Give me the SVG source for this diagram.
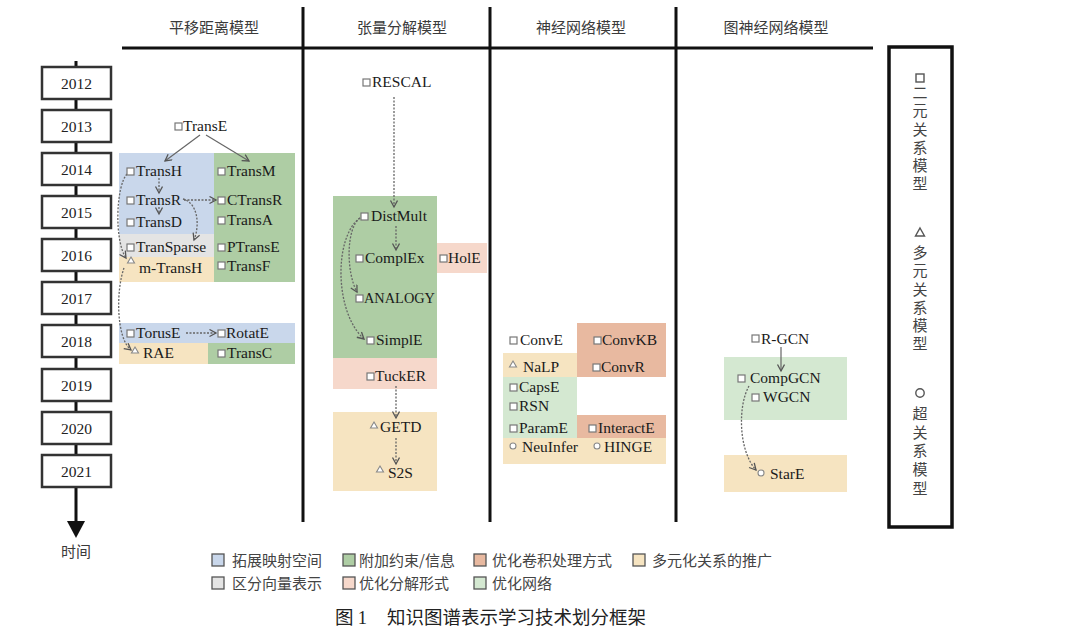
<svg xmlns="http://www.w3.org/2000/svg" width="1080" height="634" viewBox="0 0 1080 634">
<defs>
<marker id="ah" markerWidth="10" markerHeight="10" refX="7.5" refY="4" orient="auto" markerUnits="userSpaceOnUse">
<path d="M1,0.5 L7.5,4 L1,7.5" fill="none" stroke="#555" stroke-width="1.3"/>
</marker>
<style>
.m{font-family:"Liberation Serif","Times New Roman",serif;font-size:15.5px;fill:#1a1a1a}
.yr{font-family:"Liberation Serif","Times New Roman",serif;font-size:15.5px;fill:#222;text-anchor:middle}
.h{font-family:"Noto Sans CJK SC",sans-serif;font-size:15px;fill:#3a3a3a;text-anchor:middle}
.lg{font-family:"Noto Sans CJK SC",sans-serif;font-size:15px;fill:#444}
.vt{font-family:"Noto Sans CJK SC",sans-serif;font-size:15px;fill:#444;writing-mode:vertical-rl}
.cap{font-family:"Noto Sans CJK SC",sans-serif;font-size:18.5px;fill:#222}
.sq{fill:#fff;stroke:#777;stroke-width:1.2}
.ic{fill:#fff;stroke:#888;stroke-width:1.1}
.dl{fill:none;stroke:#666;stroke-width:1.3;stroke-dasharray:2 1.5;marker-end:url(#ah)}
.sl{fill:none;stroke:#666;stroke-width:1.2;marker-end:url(#ah)}
.yb{fill:#fff;stroke:#333;stroke-width:2.5}
.bk{stroke:#111;stroke-width:3;fill:none}
.lsq{stroke:#555;stroke-width:1.3}
.blue{fill:#c9d7eb}
.green{fill:#aecda4}
.orange{fill:#e8b9a0}
.yellow{fill:#f6e4c1}
.grey{fill:#e4e4e4}
.pink{fill:#f6d8cb}
.lgreen{fill:#d4e8d1}
</style>
</defs>
<rect width="1080" height="634" fill="#fff"/>

<!-- frame lines and headings -->
<g id="frame">
<line class="bk" x1="122" y1="48" x2="873" y2="48"/>
<line class="bk" x1="303" y1="7" x2="303" y2="522"/>
<line class="bk" x1="490" y1="7" x2="490" y2="522"/>
<line class="bk" x1="676" y1="7" x2="676" y2="522"/>
<text class="h" x="214" y="33">平移距离模型</text>
<text class="h" x="402" y="33">张量分解模型</text>
<text class="h" x="581" y="33">神经网络模型</text>
<text class="h" x="776" y="33">图神经网络模型</text>
</g>

<!-- timeline -->
<g id="timeline">
<line x1="76" y1="61" x2="76" y2="524" stroke="#111" stroke-width="3"/>
<polygon points="67,521 85,521 76,538" fill="#111"/>
<rect class="yb" x="42" y="67" width="69" height="32"/><text class="yr" x="76.5" y="89">2012</text>
<rect class="yb" x="42" y="110" width="69" height="32"/><text class="yr" x="76.5" y="132">2013</text>
<rect class="yb" x="42" y="153" width="69" height="32"/><text class="yr" x="76.5" y="175">2014</text>
<rect class="yb" x="42" y="196" width="69" height="32"/><text class="yr" x="76.5" y="218">2015</text>
<rect class="yb" x="42" y="239" width="69" height="32"/><text class="yr" x="76.5" y="261">2016</text>
<rect class="yb" x="42" y="282" width="69" height="32"/><text class="yr" x="76.5" y="304">2017</text>
<rect class="yb" x="42" y="325" width="69" height="32"/><text class="yr" x="76.5" y="347">2018</text>
<rect class="yb" x="42" y="369" width="69" height="32"/><text class="yr" x="76.5" y="391">2019</text>
<rect class="yb" x="42" y="412" width="69" height="32"/><text class="yr" x="76.5" y="434">2020</text>
<rect class="yb" x="42" y="455" width="69" height="32"/><text class="yr" x="76.5" y="477">2021</text>
<text class="h" x="76" y="557">时间</text>
</g>

<!-- category backgrounds -->
<g id="backgrounds">
<rect class="blue" x="119" y="153" width="95" height="81"/>
<rect class="grey" x="119" y="234" width="95" height="23"/>
<rect class="yellow" x="119" y="257" width="95" height="25"/>
<rect class="green" x="214" y="153" width="81" height="129"/>
<rect class="blue" x="119" y="323" width="176" height="20"/>
<rect class="yellow" x="119" y="343" width="89" height="21"/>
<rect class="green" x="208" y="343" width="87" height="21"/>
<rect class="green" x="333" y="196" width="104" height="162"/>
<rect class="pink" x="437" y="243" width="50" height="30"/>
<rect class="pink" x="333" y="358" width="104" height="31"/>
<rect class="yellow" x="333" y="412" width="104" height="79"/>
<rect class="orange" x="577" y="323" width="89" height="54"/>
<rect class="yellow" x="503" y="353" width="74" height="24"/>
<rect class="lgreen" x="503" y="377" width="74" height="61"/>
<rect class="orange" x="577" y="415" width="89" height="23"/>
<rect class="yellow" x="503" y="438" width="163" height="26"/>
<rect class="lgreen" x="724" y="357" width="123" height="63"/>
<rect class="yellow" x="724" y="455" width="123" height="37"/>
</g>

<!-- connectors -->
<g id="connectors">
<path class="sl" d="M200,135 L165,161"/>
<path class="sl" d="M206,135 L249,161"/>
<path class="dl" d="M159,178 L159,193"/>
<path class="dl" d="M159,207 L159,214"/>
<path class="dl" d="M184,200 L216,200"/>
<path class="dl" d="M183,199 C198,203 200,225 194,240"/>
<path class="dl" d="M127,174 C116,186 114,240 126,258"/>
<path class="dl" d="M124,268 C116,290 116,338 131,350"/>
<path class="dl" d="M186,333 L216,333"/>
<path class="dl" d="M394,97 L394,207"/>
<path class="dl" d="M396,226 L396,250"/>
<path class="dl" d="M360,218 C346,228 346,272 357,292"/>
<path class="dl" d="M360,218 C334,236 334,312 364,339"/>
<path class="dl" d="M396,386 L396,418"/>
<path class="dl" d="M396,438 L396,464"/>
<path class="sl" d="M781,347 L781,371"/>
<path class="dl" d="M749,386 C738,405 738,450 756,470"/>
</g>

<!-- translation models -->
<g id="TransE"><rect class="sq" x="175" y="123" width="7" height="7"/><text class="m" x="183" y="131">TransE</text></g>
<g id="TransH"><rect class="sq" x="127" y="168" width="7" height="7"/><text class="m" x="136" y="176">TransH</text></g>
<g id="TransR"><rect class="sq" x="127" y="197" width="7" height="7"/><text class="m" x="136" y="205">TransR</text></g>
<g id="TransD"><rect class="sq" x="127" y="219" width="7" height="7"/><text class="m" x="136" y="227">TransD</text></g>
<g id="TranSparse"><rect class="sq" x="127" y="244" width="7" height="7"/><text class="m" x="136" y="252">TranSparse</text></g>
<g id="m-TransH"><polygon class="ic" points="131,257 134.5,263 127.5,263"/><text class="m" x="139" y="273">m-TransH</text></g>
<g id="TransM"><rect class="sq" x="218" y="168" width="7" height="7"/><text class="m" x="227" y="176">TransM</text></g>
<g id="CTransR"><rect class="sq" x="218" y="197" width="7" height="7"/><text class="m" x="227" y="205">CTransR</text></g>
<g id="TransA"><rect class="sq" x="218" y="217" width="7" height="7"/><text class="m" x="227" y="225">TransA</text></g>
<g id="PTransE"><rect class="sq" x="218" y="244" width="7" height="7"/><text class="m" x="227" y="252">PTransE</text></g>
<g id="TransF"><rect class="sq" x="218" y="262" width="7" height="7"/><text class="m" x="227" y="271">TransF</text></g>
<g id="TorusE"><rect class="sq" x="127" y="330" width="7" height="7"/><text class="m" x="136" y="338">TorusE</text></g>
<g id="RotatE"><rect class="sq" x="218" y="330" width="7" height="7"/><text class="m" x="226" y="338">RotatE</text></g>
<g id="RAE"><polygon class="ic" points="135,347 138.5,353 131.5,353"/><text class="m" x="143" y="358">RAE</text></g>
<g id="TransC"><rect class="sq" x="218" y="350" width="7" height="7"/><text class="m" x="227" y="358">TransC</text></g>

<!-- tensor factorization models -->
<g id="RESCAL"><rect class="sq" x="363" y="79" width="7" height="7"/><text class="m" x="372" y="87">RESCAL</text></g>
<g id="DistMult"><rect class="sq" x="361" y="213" width="7" height="7"/><text class="m" x="371" y="221">DistMult</text></g>
<g id="ComplEx"><rect class="sq" x="356" y="255" width="7" height="7"/><text class="m" x="365" y="263">ComplEx</text></g>
<g id="HolE"><rect class="sq" x="440" y="255" width="7" height="7"/><text class="m" x="448" y="263">HolE</text></g>
<g id="ANALOGY"><rect class="sq" x="356" y="295" width="7" height="7"/><text class="m" x="364" y="303" textLength="71" lengthAdjust="spacingAndGlyphs">ANALOGY</text></g>
<g id="SimplE"><rect class="sq" x="367" y="337" width="7" height="7"/><text class="m" x="376" y="345">SimplE</text></g>
<g id="TuckER"><rect class="sq" x="367" y="373" width="7" height="7"/><text class="m" x="375" y="381">TuckER</text></g>
<g id="GETD"><polygon class="ic" points="374,422 377.5,428 370.5,428"/><text class="m" x="380" y="432">GETD</text></g>
<g id="S2S"><polygon class="ic" points="380,466 383.5,472 376.5,472"/><text class="m" x="388" y="478">S2S</text></g>

<!-- neural network models -->
<g id="ConvE"><rect class="sq" x="510" y="337" width="7" height="7"/><text class="m" x="520" y="345">ConvE</text></g>
<g id="ConvKB"><rect class="sq" x="594" y="337" width="7" height="7"/><text class="m" x="602" y="345">ConvKB</text></g>
<g id="ConvR"><rect class="sq" x="593" y="364" width="7" height="7"/><text class="m" x="601" y="372">ConvR</text></g>
<g id="NaLP"><polygon class="ic" points="513,361 516.5,367 509.5,367"/><text class="m" x="523" y="372">NaLP</text></g>
<g id="CapsE"><rect class="sq" x="510" y="384" width="7" height="7"/><text class="m" x="519" y="392">CapsE</text></g>
<g id="RSN"><rect class="sq" x="510" y="403" width="7" height="7"/><text class="m" x="519" y="411">RSN</text></g>
<g id="ParamE"><rect class="sq" x="510" y="425" width="7" height="7"/><text class="m" x="519" y="433">ParamE</text></g>
<g id="InteractE"><rect class="sq" x="589" y="425" width="7" height="7"/><text class="m" x="598" y="433">InteractE</text></g>
<g id="NeuInfer"><circle class="ic" cx="513" cy="446" r="3"/><text class="m" x="522" y="452">NeuInfer</text></g>
<g id="HINGE"><circle class="ic" cx="597" cy="446" r="3"/><text class="m" x="604" y="452">HINGE</text></g>

<!-- graph neural network models -->
<g id="R-GCN"><rect class="sq" x="752" y="335" width="7" height="7"/><text class="m" x="761" y="344">R-GCN</text></g>
<g id="CompGCN"><rect class="sq" x="738" y="375" width="7" height="7"/><text class="m" x="750" y="383">CompGCN</text></g>
<g id="WGCN"><rect class="sq" x="752" y="394" width="7" height="7"/><text class="m" x="763" y="402">WGCN</text></g>
<g id="StarE"><circle class="ic" cx="761" cy="473" r="3"/><text class="m" x="770" y="479">StarE</text></g>

<!-- right legend -->
<g id="type-legend">
<rect x="889" y="47" width="63" height="480" fill="#fff" stroke="#111" stroke-width="3.5"/>
<rect x="916" y="74" width="8" height="8" fill="#fff" stroke="#555" stroke-width="1.4"/>
<text class="vt" x="920" y="85" letter-spacing="3.2">二元关系模型</text>
<polygon points="920,228 924.5,236 915.5,236" fill="#fff" stroke="#555" stroke-width="1.4"/>
<text class="vt" x="920" y="245" letter-spacing="3.2">多元关系模型</text>
<circle cx="920" cy="393" r="4.2" fill="#fff" stroke="#555" stroke-width="1.4"/>
<text class="vt" x="920" y="406" letter-spacing="3.6">超关系模型</text>
</g>

<!-- color legend -->
<g id="color-legend">
<rect class="lsq" x="212" y="554" width="12" height="12" fill="#c9d7eb"/><text class="lg" x="232" y="565.5">拓展映射空间</text>
<rect class="lsq" x="343" y="554" width="12" height="12" fill="#aecda4"/><text class="lg" x="359" y="565.5">附加约束/信息</text>
<rect class="lsq" x="474" y="554" width="12" height="12" fill="#e8b9a0"/><text class="lg" x="492" y="565.5">优化卷积处理方式</text>
<rect class="lsq" x="633" y="554" width="12" height="12" fill="#f6e4c1"/><text class="lg" x="652" y="565.5">多元化关系的推广</text>
<rect class="lsq" x="212" y="577" width="12" height="12" fill="#e4e4e4"/><text class="lg" x="232" y="588.5">区分向量表示</text>
<rect class="lsq" x="343" y="577" width="12" height="12" fill="#f6d8cb"/><text class="lg" x="359" y="588.5">优化分解形式</text>
<rect class="lsq" x="474" y="577" width="12" height="12" fill="#d4e8d1"/><text class="lg" x="492" y="588.5">优化网络</text>
</g>

<g id="caption">
<text class="cap" x="335" y="624">图 <tspan font-family="Liberation Serif, serif">1</tspan></text>
<text class="cap" x="387" y="624">知识图谱表示学习技术划分框架</text>
</g>
</svg>
